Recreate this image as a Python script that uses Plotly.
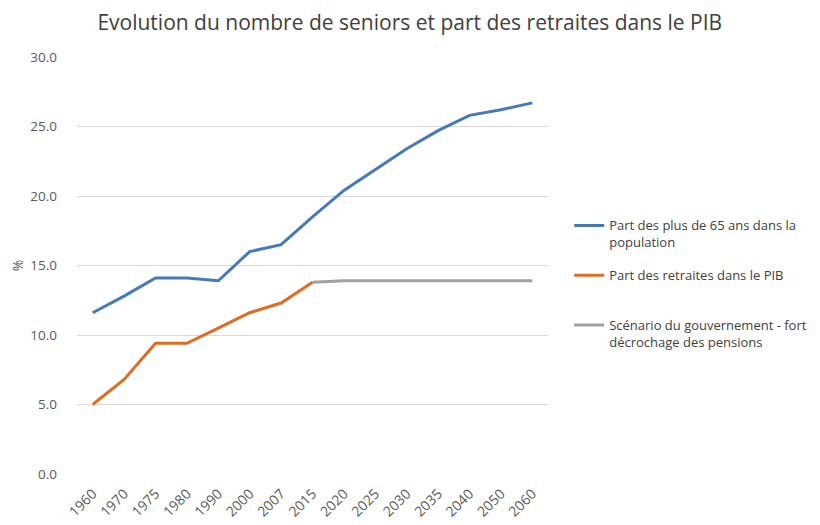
import plotly.graph_objects as go

years = ["1960", "1970", "1975", "1980", "1990", "2000", "2007", "2015",
         "2020", "2025", "2030", "2035", "2040", "2050", "2060"]
seniors = [11.6, 12.8, 14.1, 14.1, 13.9, 16.0, 16.5, 18.5,
           20.4, 21.9, 23.4, 24.7, 25.8, 26.2, 26.7]
retraites = [5.0, 6.8, 9.4, 9.4, 10.5, 11.6, 12.3, 13.8,
             None, None, None, None, None, None, None]
scenario = [None, None, None, None, None, None, None, 13.8,
            13.9, 13.9, 13.9, 13.9, 13.9, 13.9, 13.9]

names = ["Part des plus de 65 ans dans la<br>population",
         "Part des retraites dans le PIB<br> ",
         "Scénario du gouvernement - fort<br>décrochage des pensions"]
colors = ["#4679B8", "#DE6C22", "#A0A0A0"]

fig = go.Figure()
for i, (vals, name, col) in enumerate(zip([seniors, retraites, scenario], names, colors)):
    fig.add_trace(go.Scatter(x=years, y=vals, mode="lines", name=name,
                             line=dict(color=col, width=3), legendgroup=str(i)))

fig.update_layout(
    width=820, height=525,
    paper_bgcolor="white", plot_bgcolor="white",
    margin=dict(l=69, r=280, t=49, b=59, autoexpand=False),
    font=dict(family="Open Sans", color="#595959", size=13),
    title=dict(text="Evolution du nombre de seniors et part des retraites dans le PIB",
               x=0.49, xanchor="center", y=0.973, yanchor="middle",
               font=dict(size=21, color="#404040")),
    showlegend=True,
    legend=dict(x=1.045, xanchor="left", y=0.632, yanchor="top",
                valign="top", tracegroupgap=13,
                font=dict(size=13, color="#404040"), bgcolor="rgba(0,0,0,0)"),
    xaxis=dict(type="category", range=[-0.5, 14.5], tickangle=-45,
               showgrid=False, showline=False, ticks="", zeroline=False,
               ticklabelstandoff=8, automargin=False,
               tickfont=dict(size=14, color="#595959")),
    yaxis=dict(range=[0, 30], dtick=5, tickformat=".1f", showgrid=True,
               gridcolor="#D9D9D9", gridwidth=1, zeroline=False, showline=False,
               ticks="", ticklabelstandoff=19, automargin=False,
               title=dict(text="%", standoff=10, font=dict(size=14, color="#595959")),
               tickfont=dict(size=13.5, color="#595959")),
)
fig.write_html("out.html")
